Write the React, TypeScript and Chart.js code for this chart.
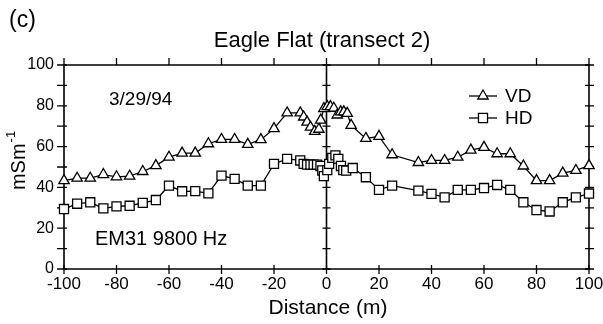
import React, { useEffect, useRef } from 'react';
import { Chart, registerables } from 'chart.js';

Chart.register(...registerables);

const FONT = '"Liberation Sans", Arial, Helvetica, sans-serif';

const vdDistance = [-100, -95, -90, -85, -80, -75, -70, -65, -60, -55, -50, -45, -40, -35, -30, -25, -20, -15, -10, -8.7, -7.4, -6.1, -4.5, -2.9, -2.2, -1, 0.3, 1.5, 2.8, 4.1, 5.4, 6.6, 7.9, 9.4, 15, 20, 25, 35, 40, 45, 50, 55, 60, 65, 70, 75, 80, 85, 90, 95, 100];
const vdValues = [43.3, 44.5, 44.5, 46.3, 45.2, 45.5, 47.8, 50.7, 54.8, 56.8, 56.8, 61.4, 63.5, 63.5, 61.1, 63.4, 68.8, 76.5, 76.5, 74.5, 72, 69.5, 67.5, 68.5, 73, 78.6, 79.6, 79.6, 78.8, 75.5, 77, 77, 76.3, 70.4, 64, 65, 56, 52.2, 53.2, 53.2, 54.8, 58.3, 59.6, 56.5, 56.5, 50.5, 43.3, 43.3, 47, 48.3, 50.7];

const hdDistance = [-100, -95, -90, -85, -80, -75, -70, -65, -60, -55, -50, -45, -40, -35, -30, -25, -20, -15, -10, -8.7, -7.4, -6.1, -4.9, -3.6, -2.3, -1.6, -1, 0.3, 1, 2.2, 3.4, 4.5, 5.5, 6.4, 7.5, 10, 15, 20, 25, 35, 40, 45, 50, 55, 60, 65, 70, 75, 80, 85, 90, 95, 100];
const hdValues = [29.4, 32, 32.7, 29.7, 30.7, 31, 32.4, 33.8, 40.9, 38.1, 38.2, 37.1, 45.8, 44.2, 40.9, 40.9, 51.5, 54, 53.2, 51.5, 51.2, 51.2, 51.2, 51.2, 50.5, 48.3, 45.5, 48.5, 51.5, 54.5, 55.7, 54, 50.5, 48.5, 48.2, 49.5, 45, 38.8, 40.9, 38.4, 36.8, 35.1, 38.8, 38.8, 39.7, 41.2, 38.8, 32.7, 28.9, 28.2, 32.7, 35.1, 37];

const xTickValues = [-100, -80, -60, -40, -20, 0, 20, 40, 60, 80, 100];
const yTickValues = [0, 20, 40, 60, 80, 100];
const yMinorTicks = [0, 10, 20, 30, 40, 50, 60, 70, 80, 90, 100];

const titleText = 'Eagle Flat (transect 2)';
const panelLabel = '(c)';
const dateText = '3/29/94';
const instrumentText = 'EM31 9800 Hz';
const xTitle = 'Distance (m)';
const yTitleMain = 'mSm';
const yTitleSup = '-1';
const seriesNames = ['VD', 'HD'];

function drawMarker(ctx: CanvasRenderingContext2D, style: string, x: number, y: number, r: number) {
  ctx.beginPath();
  if (style === 'triangle') {
    let rad = 0;
    ctx.moveTo(x + Math.sin(rad) * r, y - Math.cos(rad) * r);
    rad += (2 * Math.PI) / 3;
    ctx.lineTo(x + Math.sin(rad) * r, y - Math.cos(rad) * r);
    rad += (2 * Math.PI) / 3;
    ctx.lineTo(x + Math.sin(rad) * r, y - Math.cos(rad) * r);
    ctx.closePath();
  } else {
    const s = r * Math.SQRT1_2;
    ctx.rect(x - s, y - s, 2 * s, 2 * s);
  }
  ctx.fillStyle = '#fff';
  ctx.fill();
  ctx.strokeStyle = '#000';
  ctx.lineWidth = 1.3;
  ctx.stroke();
}

const decorPlugin = {
  id: 'decor',
  beforeDatasetsDraw(chart: any) {
    const { ctx, chartArea } = chart;
    const xs = chart.scales.x;
    const ys = chart.scales.y;
    const { left, right, top, bottom } = chartArea;
    ctx.save();
    ctx.strokeStyle = '#000';
    ctx.lineWidth = 1.6;
    ctx.beginPath();
    ctx.rect(left, top, right - left, bottom - top);
    const x0 = xs.getPixelForValue(0);
    ctx.moveTo(x0, top);
    ctx.lineTo(x0, bottom);
    ctx.stroke();
    ctx.lineWidth = 1.3;
    ctx.beginPath();
    for (const v of yMinorTicks) {
      const y = ys.getPixelForValue(v);
      ctx.moveTo(left - 7, y);
      ctx.lineTo(left + 3, y);
      ctx.moveTo(right - 4, y);
      ctx.lineTo(right + 5, y);
      ctx.moveTo(x0 - 4, y);
      ctx.lineTo(x0 + 4, y);
    }
    for (const v of xTickValues) {
      const x = xs.getPixelForValue(v);
      ctx.moveTo(x, top - 7);
      ctx.lineTo(x, top);
      ctx.moveTo(x, bottom - 4);
      ctx.lineTo(x, bottom + 5);
    }
    ctx.stroke();
    ctx.restore();
  },
  afterDraw(chart: any) {
    const { ctx } = chart;
    ctx.save();
    ctx.fillStyle = '#000';
    ctx.textBaseline = 'middle';
    ctx.textAlign = 'left';
    ctx.font = `23px ${FONT}`;
    ctx.fillText(panelLabel, 9, 21);
    ctx.textAlign = 'center';
    ctx.font = `22px ${FONT}`;
    ctx.fillText(titleText, 322, 41);
    ctx.font = `21px ${FONT}`;
    ctx.fillText(xTitle, 328, 308);
    ctx.textAlign = 'left';
    ctx.font = `19px ${FONT}`;
    ctx.fillText(dateText, 109, 100);
    ctx.font = `20px ${FONT}`;
    ctx.fillText(instrumentText, 95, 239);
    const rows = [
      { name: seriesNames[0], style: 'triangle', y: 96, r: 6 },
      { name: seriesNames[1], style: 'rect', y: 118, r: 6.4 },
    ];
    for (const row of rows) {
      ctx.strokeStyle = '#000';
      ctx.lineWidth = 1.3;
      ctx.beginPath();
      ctx.moveTo(469, row.y);
      ctx.lineTo(497, row.y);
      ctx.stroke();
      drawMarker(ctx, row.style, 483, row.y, row.r);
      ctx.fillStyle = '#000';
      ctx.font = `19px ${FONT}`;
      ctx.textAlign = 'left';
      ctx.fillText(row.name, 505, row.y + 1);
    }
    ctx.translate(19, 161);
    ctx.rotate(-Math.PI / 2);
    ctx.font = `20px ${FONT}`;
    const wMain = ctx.measureText(yTitleMain).width;
    ctx.font = `13px ${FONT}`;
    const wSup = ctx.measureText(yTitleSup).width;
    const start = -(wMain + wSup) / 2;
    ctx.font = `20px ${FONT}`;
    ctx.textAlign = 'left';
    ctx.fillText(yTitleMain, start, 0);
    ctx.font = `13px ${FONT}`;
    ctx.fillText(yTitleSup, start + wMain + 1, -8);
    ctx.restore();
  },
};

export default function App() {
  const ref = useRef<HTMLCanvasElement | null>(null);
  useEffect(() => {
    if (!ref.current) return;
    const chart = new Chart(ref.current, {
      type: 'line',
      data: {
        datasets: [
          {
            label: seriesNames[0],
            data: vdDistance.map((x, i) => ({ x, y: vdValues[i] })),
            borderColor: '#000',
            borderWidth: 1.3,
            pointStyle: 'triangle',
            pointRadius: 6,
            pointBackgroundColor: '#fff',
            pointBorderColor: '#000',
            pointBorderWidth: 1.3,
            tension: 0,
            clip: false as any,
          },
          {
            label: seriesNames[1],
            data: hdDistance.map((x, i) => ({ x, y: hdValues[i] })),
            borderColor: '#000',
            borderWidth: 1.3,
            pointStyle: 'rect',
            pointRadius: 6.4,
            pointBackgroundColor: '#fff',
            pointBorderColor: '#000',
            pointBorderWidth: 1.3,
            tension: 0,
            clip: false as any,
          },
        ],
      },
      options: {
        responsive: false,
        animation: false,
        layout: { padding: { left: 0, top: 65, right: 14, bottom: 0 } },
        plugins: { legend: { display: false }, title: { display: false }, tooltip: { enabled: false } },
        scales: {
          x: {
            type: 'linear',
            min: -100,
            max: 100,
            grid: { display: false, drawTicks: false, tickLength: 0 },
            border: { display: false },
            afterBuildTicks: (s: any) => { s.ticks = xTickValues.map((v) => ({ value: v })); },
            afterFit: (s: any) => { s.height = 55; s.paddingLeft = 0; s.paddingRight = 0; },
            ticks: { color: '#000', font: { size: 17, family: FONT }, padding: 5, maxRotation: 0, autoSkip: false },
          },
          y: {
            type: 'linear',
            min: 0,
            max: 100,
            grid: { display: false, drawTicks: false, tickLength: 0 },
            border: { display: false },
            afterBuildTicks: (s: any) => { s.ticks = yTickValues.map((v) => ({ value: v })); },
            afterFit: (s: any) => { s.width = 64; s.paddingTop = 0; s.paddingBottom = 0; },
            ticks: { color: '#000', font: { size: 16, family: FONT }, padding: 10 },
          },
        },
      },
      plugins: [decorPlugin],
    } as any);
    return () => chart.destroy();
  }, []);
  return (
    <div style={{ position: 'fixed', left: 0, top: 0, width: 603, height: 324, background: '#fff' }}>
      <canvas ref={ref} width={603} height={324} style={{ width: 603, height: 324, display: 'block' }} />
    </div>
  );
}
